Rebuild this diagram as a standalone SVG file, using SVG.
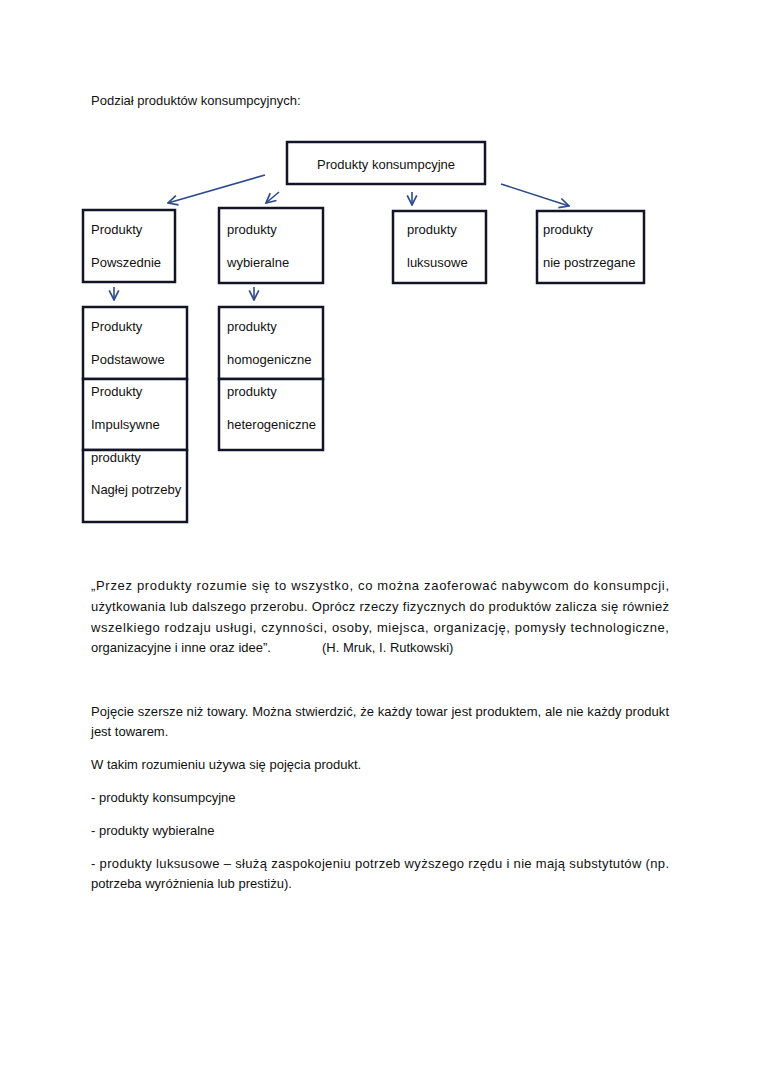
<svg xmlns="http://www.w3.org/2000/svg" width="760" height="1075" viewBox="0 0 760 1075">
<defs>
<style>
text{font-family:"Liberation Sans",Arial,sans-serif;font-size:13px;fill:#111}
.box{fill:#fff;stroke:#141428;stroke-width:2.5}
.arr{stroke:#2c4a8c;stroke-width:1.6;fill:none}
</style>
<marker id="ah" viewBox="0 0 10 10" refX="9" refY="5" markerWidth="12" markerHeight="12" markerUnits="userSpaceOnUse" orient="auto">
<path d="M1,1 L9,5 L1,9" fill="none" stroke="#2c4a8c" stroke-width="1.4"/>
</marker>
</defs>
<rect width="760" height="1075" fill="#fff"/>
<text x="91" y="105">Podział produktów konsumpcyjnych:</text>

<g id="connectors">
<line class="arr" x1="265" y1="175" x2="168" y2="203" marker-end="url(#ah)"/>
<line class="arr" x1="279" y1="192" x2="266" y2="203" marker-end="url(#ah)"/>
<line class="arr" x1="412" y1="192" x2="412" y2="205" marker-end="url(#ah)"/>
<line class="arr" x1="501" y1="184" x2="569" y2="206" marker-end="url(#ah)"/>
<line class="arr" x1="114" y1="287" x2="114" y2="300" marker-end="url(#ah)"/>
<line class="arr" x1="254" y1="287" x2="254" y2="300" marker-end="url(#ah)"/>
</g>

<g id="n-konsumpcyjne"><rect class="box" x="287" y="142" width="198" height="42"/><text x="317" y="169">Produkty konsumpcyjne</text></g>

<g id="n-powszednie"><rect class="box" x="83" y="210" width="92" height="72"/><text x="91" y="234">Produkty</text><text x="91" y="267">Powszednie</text></g>
<g id="n-wybieralne"><rect class="box" x="219" y="208" width="104" height="75"/><text x="227" y="234">produkty</text><text x="227" y="267">wybieralne</text></g>
<g id="n-luksusowe"><rect class="box" x="393" y="211" width="93" height="72"/><text x="407" y="234">produkty</text><text x="407" y="267">luksusowe</text></g>
<g id="n-niepostrzegane"><rect class="box" x="537" y="211" width="107" height="72"/><text x="543" y="234">produkty</text><text x="543" y="267">nie postrzegane</text></g>

<g id="n-podstawowe"><rect class="box" x="83" y="307" width="104" height="72"/><text x="91" y="331">Produkty</text><text x="91" y="364">Podstawowe</text></g>
<g id="n-impulsywne"><rect class="box" x="83" y="379" width="104" height="71"/><text x="91" y="396">Produkty</text><text x="91" y="429">Impulsywne</text></g>
<g id="n-naglej"><rect class="box" x="83" y="450" width="104" height="72"/><text x="91" y="462">produkty</text><text x="91" y="494">Nagłej potrzeby</text></g>

<g id="n-homogeniczne"><rect class="box" x="219" y="307" width="104" height="72"/><text x="227" y="331">produkty</text><text x="227" y="364">homogeniczne</text></g>
<g id="n-heterogeniczne"><rect class="box" x="219" y="379" width="104" height="71"/><text x="227" y="396">produkty</text><text x="227" y="429">heterogeniczne</text></g>

<text x="91" y="590" textLength="578" lengthAdjust="spacing">„Przez produkty rozumie się to wszystko, co można zaoferować nabywcom do konsumpcji,</text>
<text x="91" y="611" textLength="578" lengthAdjust="spacing">użytkowania lub dalszego przerobu. Oprócz rzeczy fizycznych do produktów zalicza się również</text>
<text x="91" y="632" textLength="578" lengthAdjust="spacing">wszelkiego rodzaju usługi, czynności, osoby, miejsca, organizację, pomysły technologiczne,</text>
<text x="91" y="652">organizacyjne i inne oraz idee”.</text>
<text x="322" y="652">(H. Mruk, I. Rutkowski)</text>

<text x="91" y="716" textLength="578" lengthAdjust="spacing">Pojęcie szersze niż towary. Można stwierdzić, że każdy towar jest produktem, ale nie każdy produkt</text>
<text x="91" y="736">jest towarem.</text>
<text x="91" y="769">W takim rozumieniu używa się pojęcia produkt.</text>
<text x="91" y="802">- produkty konsumpcyjne</text>
<text x="91" y="835">- produkty wybieralne</text>
<text x="91" y="868" textLength="578" lengthAdjust="spacing">- produkty luksusowe – służą zaspokojeniu potrzeb wyższego rzędu i nie mają substytutów (np.</text>
<text x="91" y="888">potrzeba wyróżnienia lub prestiżu).</text>
</svg>
